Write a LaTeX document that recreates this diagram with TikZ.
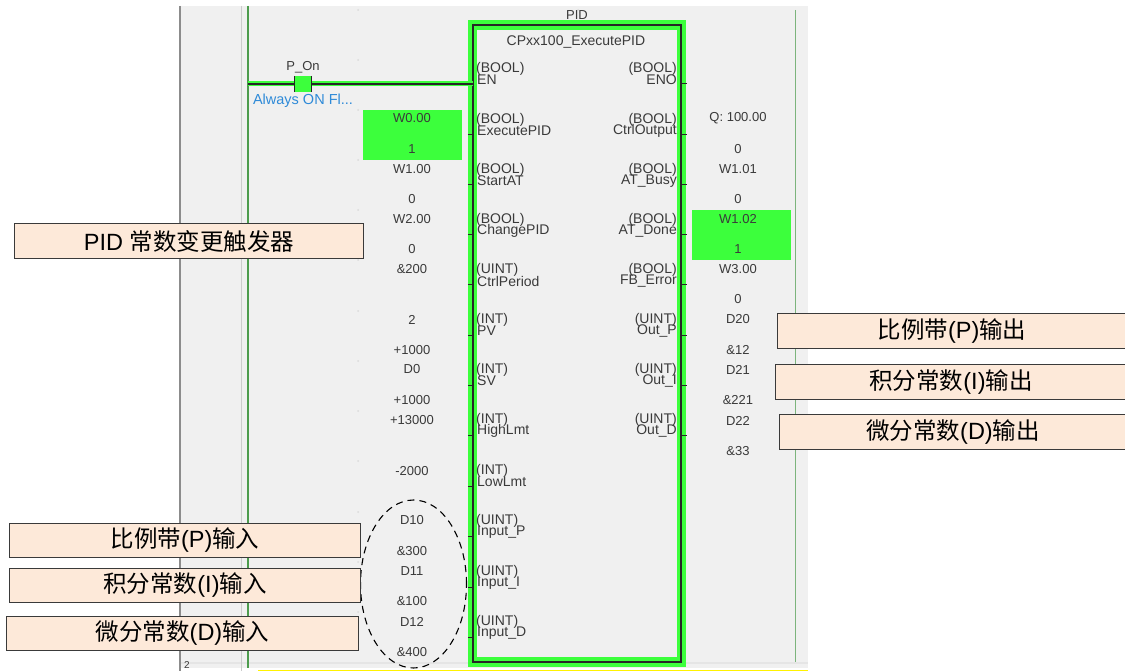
\documentclass[tikz,border=0pt]{standalone}
\usepackage{fontspec}
\setmainfont{Liberation Sans}
\newfontfamily\cjk{Noto Sans CJK SC}
\usetikzlibrary{shapes.geometric}
\definecolor{bgc}{HTML}{F0F0F0}
\definecolor{lime}{HTML}{3CFF3C}
\definecolor{peach}{HTML}{FDE9D9}
\definecolor{ink}{HTML}{3A3A3A}
\definecolor{railc}{HTML}{2E8B2E}
\definecolor{linkc}{HTML}{2E8AD8}
\newcommand{\cj}[1]{{\cjk #1}}
\newcommand{\lowr}[1]{\raisebox{-1.5pt}{#1}}
\tikzset{
 x=1pt,y=-1pt,
 val/.style={font=\fontsize{13}{13}\selectfont,text=ink,inner sep=0pt,anchor=center},
 pinl/.style={font=\fontsize{14}{14}\selectfont,text=ink,inner sep=0pt,anchor=west},
 pinr/.style={font=\fontsize{14}{14}\selectfont,text=ink,inner sep=0pt,anchor=east},
 note/.style={draw=ink,line width=1pt,fill=peach,inner sep=0pt,anchor=north west,font=\fontsize{23.5}{23.5}\selectfont,text=black,align=center},
 stub/.style={black!85,line width=1pt},
 onbox/.style={fill=lime,draw=none,inner sep=0pt,anchor=north west},
}
\begin{document}
\begin{tikzpicture}
\useasboundingbox (0,0) rectangle (1125,671);
% panel
\fill[bgc] (180,6) rectangle (808,668);
\fill[black!10] (181,662) rectangle (808,664);
\draw[black!45,line width=1.6pt] (180,6) -- (180,671);
\draw[black!20,line width=1.4pt] (241.5,6) -- (241.5,671);
\draw[railc!85!white,line width=1.2pt] (248,6) -- (248,668);
\draw[railc!60!bgc,line width=1.4pt] (795.5,10) -- (795.5,662);
\fill[yellow] (258,669.5) rectangle (808,671);
\node[val,font=\fontsize{10}{10}\selectfont] (rung) at (187,665) {2};
% grid dots
\foreach \gx in {358,578}{\foreach \gy in {10,60,110,160,210,260,311,361,411,461,512,562,612}{\fill[black!14] (\gx,\gy) circle (1);}}
% block
\fill[lime] (468,20) rectangle (686,667);
\fill[bgc] (477,30) rectangle (677,657);
\draw[black!85,line width=1.2pt] (473,25) rectangle (681,662);
\coordinate (blk) at (473,84);
\coordinate (railstart) at (248,84);
\node[val] (pidt) at (577,15) {PID};
\node[val,font=\fontsize{14}{14}\selectfont] (fbn) at (576,42) {CPxx100\_ExecutePID};
% rail
\draw[lime,line width=5pt] (railstart) -- (blk);
\draw[black!85,line width=1.4pt] (railstart) -- (blk);
\node[fill=lime,draw=none,minimum width=16pt,minimum height=16pt,inner sep=0pt] (contact) at (303,84) {};
\draw[black!85,line width=1pt] (contact.north west) -- (contact.south west) (contact.north east) -- (contact.south east);
\node[val] (pon) at (303,67) {P\_On};
\node[val,text=linkc,font=\fontsize{14.5}{14.5}\selectfont] (aof) at (303,101) {Always ON Fl...};
% pins
\foreach \py/\t/\n in {84/BOOL/EN,135/BOOL/ExecutePID,185/BOOL/StartAT,235/BOOL/ChangePID,285/UINT/CtrlPeriod,335/INT/PV,385/INT/SV,435/INT/HighLmt,486/INT/LowLmt,536/UINT/Input\_P,587/UINT/Input\_I,637/UINT/Input\_D}{
  \draw[stub] (468,\py) -- (473,\py);
  \node[pinl] at (476,\py-15.5) {(\t)};
  \node[pinl] at (477,\py-4) {\n};
}
\foreach \py/\t/\n in {84/BOOL/ENO,135/BOOL/CtrlOutput,185/BOOL/AT\_Busy,235/BOOL/AT\_Done,285/BOOL/FB\_Error,335/UINT/Out\_P,385/UINT/Out\_I,435/UINT/Out\_D}{
  \draw[stub] (681,\py) -- (687,\py);
  \node[pinr] at (677,\py-15.5) {(\t)};
  \node[pinr] at (677,\py-4) {\n};
}
% green operand boxes
\node[onbox,minimum width=99pt,minimum height=50pt] (on1) at (363,110) {};
\node[onbox,minimum width=99pt,minimum height=50pt] (on2) at (692,210) {};
% values
\foreach \vy/\v in {118.5/W0.00,149.5/1,169.5/W1.00,199.5/0,219.5/W2.00,249.5/0,269.5/\&200,319.5/2,350.5/+1000,369.5/D0,400.5/+1000,420.5/+13000,471.5/-2000,520.5/D10,551.5/\&300,571.5/D11,601.5/\&100,621.5/D12,652.5/\&400}{
  \node[val] at (412,\vy) {\v};
}
\foreach \vy/\v in {118.5/Q: 100.00,149.5/0,169.5/W1.01,199.5/0,219.5/W1.02,249.5/1,269.5/W3.00,299.5/0,319.5/D20,350.5/\&12,369.5/D21,400.5/\&221,420.5/D22,451.5/\&33}{
  \node[val] at (738,\vy) {\v};
}
% ellipse
\node[ellipse,draw=black,dash pattern=on 7pt off 5pt,line width=1.1pt,minimum width=106pt,minimum height=168pt,inner sep=0pt] (oval) at (413.5,584) {};
% notes
\node[note,minimum width=349pt,minimum height=35pt] (n1) at (14,223) {PID \cj{常数变更触发器}};
\node[note,minimum width=349pt,minimum height=35pt] (n2) at (777,313) {\lowr{\cj{比例带}(P)\cj{输出}}};
\node[note,minimum width=351pt,minimum height=35pt] (n3) at (775,364) {\cj{积分常数}(I)\cj{输出}};
\node[note,minimum width=347pt,minimum height=35pt] (n4) at (779,414) {\cj{微分常数}(D)\cj{输出}};
\node[note,minimum width=351pt,minimum height=34pt] (n5) at (9,523) {\lowr{\cj{比例带}(P)\cj{输入}}};
\node[note,minimum width=351pt,minimum height=34pt] (n6) at (9,568) {\lowr{\cj{积分常数}(I)\cj{输入}}};
\node[note,minimum width=352pt,minimum height=34pt] (n7) at (6,616) {\lowr{\cj{微分常数}(D)\cj{输入}}};
\end{tikzpicture}
\end{document}
